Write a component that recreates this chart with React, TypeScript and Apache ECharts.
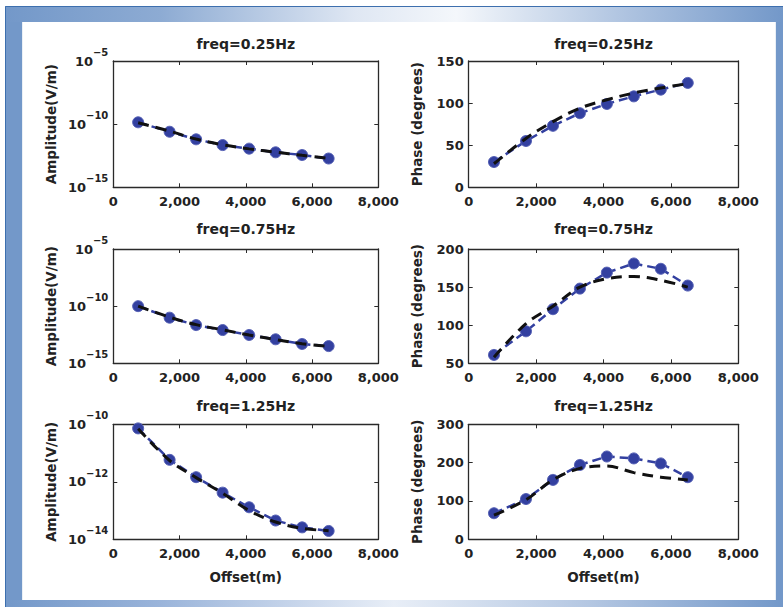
import React, { useEffect, useRef } from 'react';
import * as echarts from 'echarts';

const offsets = [750, 1700, 2500, 3300, 4100, 4900, 5700, 6500];
const titles = ['freq=0.25Hz', 'freq=0.25Hz', 'freq=0.75Hz', 'freq=0.75Hz', 'freq=1.25Hz', 'freq=1.25Hz'];
const ampName = 'Amplitude(V/m)';
const phaseName = 'Phase (degrees)';
const xName = 'Offset(m)';

const amp025Obs = [1.4e-10, 2.5e-11, 6.3e-12, 2.2e-12, 1.15e-12, 5.9e-13, 3.6e-13, 1.9e-13];
const amp025Model = [1.3e-10, 2.8e-11, 6.6e-12, 2.3e-12, 1.1e-12, 6.0e-13, 3.4e-13, 2.0e-13];
const amp075Obs = [1.0e-10, 9.8e-12, 2.2e-12, 8.1e-13, 3.0e-13, 1.26e-13, 4.9e-14, 3.2e-14];
const amp075Model = [1.0e-10, 1.1e-11, 2.4e-12, 8.5e-13, 3.0e-13, 1.2e-13, 5.2e-14, 3.0e-14];
const amp125Obs = [7.2e-11, 5.8e-12, 1.45e-12, 4.2e-13, 1.3e-13, 4.5e-14, 2.6e-14, 1.95e-14];
const amp125Model = [7.0e-11, 5.5e-12, 1.4e-12, 4.0e-13, 1.0e-13, 4.0e-14, 2.4e-14, 2.0e-14];

const phase025Obs = [30, 55, 73, 88, 99, 108, 116, 124];
const phase025Model = [28, 58, 78, 94, 104, 112, 118, 123];
const phase075Obs = [61, 92, 121, 148, 169, 181, 174, 152];
const phase075Model = [58, 102, 125, 150, 161, 164, 159, 150];
const phase125Obs = [68, 105, 155, 194, 216, 211, 198, 162];
const phase125Model = [63, 103, 155, 185, 191, 174, 162, 155];

const FONT = 'DejaVu Sans';
const TXT = '#222';
const BLUE = '#3340a0';

type YCfg = { log: boolean; min: number; max: number; interval: number };

const panels = [
  { col: 0, row: 0, y: { log: true, min: 1e-15, max: 1e-5, interval: 5 }, obs: amp025Obs, model: amp025Model },
  { col: 1, row: 0, y: { log: false, min: 0, max: 150, interval: 50 }, obs: phase025Obs, model: phase025Model },
  { col: 0, row: 1, y: { log: true, min: 1e-15, max: 1e-5, interval: 5 }, obs: amp075Obs, model: amp075Model },
  { col: 1, row: 1, y: { log: false, min: 50, max: 200, interval: 50 }, obs: phase075Obs, model: phase075Model },
  { col: 0, row: 2, y: { log: true, min: 1e-14, max: 1e-10, interval: 2 }, obs: amp125Obs, model: amp125Model },
  { col: 1, row: 2, y: { log: false, min: 0, max: 300, interval: 100 }, obs: phase125Obs, model: phase125Model },
];

const cols = [
  { left: 113.3, width: 265 },
  { left: 468.7, width: 269.6 },
];
const rows = [
  { top: 61, height: 126.3, titleY: 43.5 },
  { top: 249, height: 114.3, titleY: 228.5 },
  { top: 424.3, height: 115, titleY: 405.5 },
];

const lineColor = '#2a2a2a';

function fmtThousands(v: number) {
  return Math.round(v).toLocaleString('en-US');
}

function logLabel(v: number) {
  const e = Math.round(Math.log10(v));
  return `{b|10}{s|${e < 0 ? '\u2212' : ''}${Math.abs(e)}}`;
}

export default function App() {
  const ref = useRef<HTMLDivElement>(null);
  useEffect(() => {
    const chart = echarts.init(ref.current!, null, { renderer: 'svg' });
    const grid: any[] = [];
    const xAxis: any[] = [];
    const yAxis: any[] = [];
    const series: any[] = [];
    const graphic: any[] = [];

    // frame
    const blue = '#7398c9';
    graphic.push(
      { type: 'rect', shape: { x: 5, y: 6, width: 17, height: 601 }, style: { fill: blue }, silent: true },
      { type: 'rect', shape: { x: 776, y: 6, width: 7, height: 601 }, style: { fill: blue }, silent: true },
      {
        type: 'rect', shape: { x: 5, y: 6, width: 778, height: 16 },
        style: {
          fill: new echarts.graphic.LinearGradient(0, 0, 1, 0, [
            { offset: 0, color: '#7398c9' },
            { offset: 0.2, color: '#8dabd3' },
            { offset: 0.45, color: '#dfe7f3' },
            { offset: 0.58, color: '#f4f7fb' },
            { offset: 0.8, color: '#aec3e0' },
            { offset: 1, color: '#7398c9' },
          ]),
        }, silent: true,
      },
      {
        type: 'rect', shape: { x: 5, y: 600, width: 778, height: 7 },
        style: {
          fill: new echarts.graphic.LinearGradient(0, 0, 1, 0, [
            { offset: 0, color: '#7398c9' },
            { offset: 0.2, color: '#9ab4da' },
            { offset: 0.5, color: '#e8eef7' },
            { offset: 0.75, color: '#b4c7e2' },
            { offset: 1, color: '#7398c9' },
          ]),
        }, silent: true,
      },
      { type: 'rect', shape: { x: 5.5, y: 6.5, width: 790, height: 610 }, style: { fill: 'none', stroke: '#3d6fae', lineWidth: 1 }, silent: true },
      { type: 'rect', shape: { x: 21.5, y: 21.5, width: 755, height: 579 }, style: { fill: '#ffffff', stroke: '#2c64a6', lineWidth: 1.2 }, silent: true, z: -1 },
    );

    panels.forEach((p, g) => {
      const c = cols[p.col];
      const r = rows[p.row];
      grid.push({ left: c.left, top: r.top, width: c.width, height: r.height, containLabel: false });
      const tickStyle = { show: true, inside: true, length: 4, lineStyle: { color: lineColor, width: 1 } };
      const axLine = { show: true, onZero: false, lineStyle: { color: lineColor, width: 1.3 } };
      xAxis.push({
        type: 'value', gridIndex: g, position: 'bottom', min: 0, max: 8000, interval: 2000,
        axisLine: axLine, axisTick: tickStyle, splitLine: { show: false },
        axisLabel: {
          show: true, margin: 8, formatter: fmtThousands,
          fontFamily: FONT, fontWeight: 'bold', fontSize: 13, color: TXT,
        },
        name: p.row === 2 ? xName : '', nameLocation: 'middle', nameGap: 31,
        nameTextStyle: { fontFamily: FONT, fontWeight: 'bold', fontSize: 13.5, color: TXT },
      });
      xAxis.push({
        type: 'value', gridIndex: g, position: 'top', min: 0, max: 8000, interval: 2000,
        axisLine: axLine, axisTick: tickStyle, splitLine: { show: false }, axisLabel: { show: false },
      });
      const y: YCfg = p.y;
      const yBase: any = y.log
        ? { type: 'log', logBase: 10, min: y.min, max: y.max, interval: y.interval }
        : { type: 'value', min: y.min, max: y.max, interval: y.interval };
      yAxis.push({
        ...yBase, gridIndex: g, position: 'left',
        axisLine: axLine, axisTick: tickStyle, splitLine: { show: false },
        axisLabel: y.log
          ? {
              show: true, margin: 5, formatter: logLabel,
              rich: {
                b: { fontFamily: FONT, fontWeight: 'bold', fontSize: 13, lineHeight: 27, color: TXT, verticalAlign: 'middle' },
                s: { fontFamily: FONT, fontWeight: 'bold', fontSize: 10, lineHeight: 10, color: TXT, verticalAlign: 'top' },
              },
            }
          : { show: true, margin: 5, fontFamily: FONT, fontWeight: 'bold', fontSize: 13, color: TXT },
        name: y.log ? ampName : phaseName, nameLocation: 'middle', nameGap: y.log ? 55 : 45, nameRotate: 90,
        nameTextStyle: { fontFamily: FONT, fontWeight: 'bold', fontSize: 13.5, color: TXT },
      });
      yAxis.push({
        ...yBase, gridIndex: g, position: 'right',
        axisLine: axLine, axisTick: tickStyle, splitLine: { show: false }, axisLabel: { show: false },
      });
      series.push({
        type: 'line', xAxisIndex: 2 * g, yAxisIndex: 2 * g,
        data: offsets.map((x, i) => [x, p.obs[i]]),
        symbol: 'circle', symbolSize: 11,
        itemStyle: { color: BLUE, borderColor: '#5560b5', borderWidth: 1 },
        lineStyle: { color: BLUE, width: 2.5, type: [9, 5] },
        z: 2,
      });
      series.push({
        type: 'line', xAxisIndex: 2 * g, yAxisIndex: 2 * g,
        data: offsets.map((x, i) => [x, p.model[i]]),
        symbol: 'none', showSymbol: false, smooth: 0.35,
        lineStyle: { color: '#111', width: 3, type: [11, 7] },
        z: 3,
      });
      graphic.push({
        type: 'text', x: c.left + c.width / 2, y: r.titleY,
        style: {
          text: titles[g], fill: TXT, font: `bold 14px "${FONT}"`,
          align: 'center', verticalAlign: 'middle', textAlign: 'center', textVerticalAlign: 'middle',
        },
        silent: true,
      });
    });

    chart.setOption({
      animation: false,
      backgroundColor: '#ffffff',
      grid, xAxis, yAxis, series, graphic,
    });
    return () => chart.dispose();
  }, []);
  return <div ref={ref} style={{ position: 'fixed', left: 0, top: 0, width: 783, height: 607 }} />;
}
